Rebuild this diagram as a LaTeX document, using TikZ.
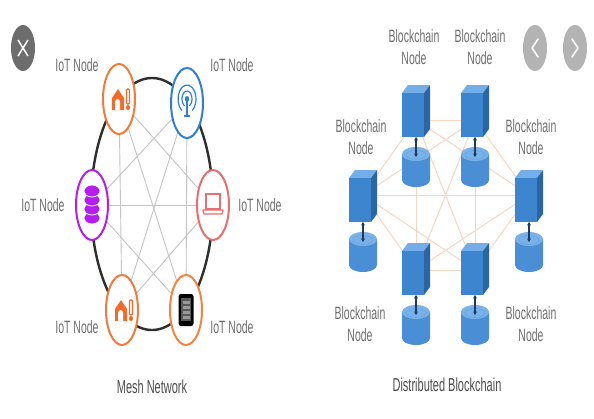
\documentclass[tikz,border=0pt]{standalone}
\usepackage{fontspec}
\setmainfont{Liberation Sans}
\usepackage{graphicx}
\usetikzlibrary{shapes.geometric,arrows.meta,backgrounds}

% text is set tall and narrow
\newcommand{\talltext}[1]{\scalebox{1}[1.7]{#1}}
\newcommand{\twolines}[2]{\talltext{\begin{tabular}{@{}c@{}}#1\\#2\end{tabular}}}

\definecolor{labelgray}{HTML}{6F6F6F}
\definecolor{titlegray}{HTML}{4D4D4D}
\definecolor{meshgray}{HTML}{C4C4C4}
\definecolor{ringblack}{HTML}{2E2E2E}
\definecolor{homeorange}{HTML}{F2692A}
\definecolor{ringorange}{HTML}{F07B3C}
\definecolor{antennablue}{HTML}{2F7FD3}
\definecolor{dbpurple}{HTML}{B51CF0}
\definecolor{laptoppink}{HTML}{EA6E6E}
\definecolor{phoneorange}{HTML}{F2843F}
\definecolor{peach}{HTML}{F7D6C2}
\definecolor{cubefront}{HTML}{3D85CF}
\definecolor{cubetop}{HTML}{73AEE8}
\definecolor{cubeside}{HTML}{2A66A6}
\definecolor{cylbody}{HTML}{4A8ED6}
\definecolor{cyltop}{HTML}{78B2EA}
\definecolor{arrownavy}{HTML}{1E3A5F}
\definecolor{closegray}{HTML}{6D6D6D}
\definecolor{navgray}{HTML}{B3B3B3}

\tikzset{
  iotnode/.style={ellipse, draw, line width=2pt, fill=white,
    minimum width=32pt, minimum height=70pt, inner sep=0pt},
  iotlabel/.style={text=labelgray, font=\fontsize{10.5}{12}\selectfont, inner sep=0pt},
  bclabel/.style={text=labelgray, font=\fontsize{10.5}{13}\selectfont, inner sep=0pt},
  titlelabel/.style={text=titlegray, font=\fontsize{11}{13}\selectfont, inner sep=0pt},
  meshline/.style={draw=meshgray, line width=0.9pt},
  ringline/.style={draw=ringblack, line width=2.4pt},
  peerline/.style={draw=peach, line width=1pt},
  navbtn/.style={ellipse, fill=navgray, minimum width=24pt, minimum height=46pt, inner sep=0pt},
  % server cube with its storage cylinder below
  bnode/.pic={
    \fill[cubetop] (-14,8) -- (-8,0) -- (14,0) -- (8,8) -- cycle;
    \fill[cubeside] (8,8) -- (14,0) -- (14,44) -- (8,52) -- cycle;
    \fill[cubefront] (-14,8) rectangle (8,52);
    \fill[cylbody] (-14,69) -- (-14,95)
      arc[start angle=180, end angle=0, x radius=14, y radius=7] -- (14,69) -- cycle;
    \fill[cyltop] (0,69) ellipse [x radius=14, y radius=7];
    \draw[cylbody!80!white, line width=0.6pt] (0,70) ellipse [x radius=10, y radius=4.5];
    \draw[arrownavy, line width=1.3pt, {Stealth[length=3.5pt,width=4pt]}-{Stealth[length=3.5pt,width=4pt]}]
      (0,52) -- (0,72);
  },
  % smart-home glyph: house with a sensor beside it
  homeicon/.pic={
    \fill[homeorange] (-7,-1) -- (-1,-10) -- (5,-1) -- (5,11) -- (-7,11) -- cycle;
    \fill[white] (-4,11) -- (-4,3)
      arc[start angle=180, end angle=360, x radius=2.5, y radius=3] -- (1,11) -- cycle;
    \draw[homeorange, line width=1.2pt, rounded corners=1pt] (7.5,-10) rectangle (10.5,5);
    \fill[homeorange] (9,8.5) ellipse [x radius=2, y radius=2.6];
  }
}

\begin{document}
\begin{tikzpicture}[x=1pt, y=-1pt]
\useasboundingbox (0,0) rectangle (594,418);

% ---------- header buttons ----------
\node[ellipse, fill=closegray, minimum width=24pt, minimum height=46pt, inner sep=0pt] (close) at (23,48) {};
\draw[white, line width=1.5pt] ([shift={(-5,-8)}]close.center) -- ([shift={(5,8)}]close.center)
  ([shift={(5,-8)}]close.center) -- ([shift={(-5,8)}]close.center);
\node[navbtn] (prev) at (535,48) {};
\draw[white, line width=1.6pt, line cap=round, line join=round]
  ([shift={(3,-9)}]prev.center) -- ([shift={(-3,0)}]prev.center) -- ([shift={(3,9)}]prev.center);
\node[navbtn] (next) at (575,48) {};
\draw[white, line width=1.6pt, line cap=round, line join=round]
  ([shift={(-3,-9)}]next.center) -- ([shift={(3,0)}]next.center) -- ([shift={(-3,9)}]next.center);

% ---------- mesh network ----------
\node[iotnode, draw=ringorange]  (home1)  at (119,99)  {};
\node[iotnode, draw=antennablue] (tower)  at (187,103) {};
\node[iotnode, draw=dbpurple]    (db)     at (92,205)  {};
\node[iotnode, draw=laptoppink]  (laptop) at (213,205) {};
\node[iotnode, draw=ringorange]  (home2)  at (122,310) {};
\node[iotnode, draw=phoneorange] (phone)  at (186,310) {};

\begin{pgfonlayer}{background}
  \fill[white] (0,0) rectangle (594,418);
  \draw[ringline] (152,204) ellipse [x radius=61, y radius=126];
  \draw[meshline] (home1) -- (home2);
  \draw[meshline] (tower) -- (phone);
  \draw[meshline] (db) -- (laptop);
  \draw[meshline] (home1) -- (laptop);
  \draw[meshline] (home1) -- (phone);
  \draw[meshline] (tower) -- (db);
  \draw[meshline] (tower) -- (home2);
  \draw[meshline] (db) -- (phone);
  \draw[meshline] (laptop) -- (home2);
\end{pgfonlayer}

% icons
\pic at (home1.center) {homeicon};
\pic at (home2.center) {homeicon};

\begin{scope}[shift={(tower.center)}]
  \fill[antennablue] (0,-4) ellipse [x radius=2.2, y radius=3];
  \draw[antennablue, line width=1.2pt]
    ([shift={(120:5 and 8)}]0,-4) arc[start angle=120, end angle=420, x radius=5, y radius=8];
  \draw[antennablue, line width=1.2pt]
    ([shift={(125:9 and 14)}]0,-4) arc[start angle=125, end angle=415, x radius=9, y radius=14];
  \draw[antennablue, line width=1.3pt] (0,-4) -- (0,13);
  \draw[antennablue, line width=1.3pt] (-3,13) -- (3,13);
\end{scope}

\begin{scope}[shift={(db.center)}]
  \foreach \yy in {13,4,-5,-14}
    \filldraw[fill=dbpurple, draw=white, line width=0.8pt] (0,\yy) ellipse [x radius=8, y radius=6];
\end{scope}

\begin{scope}[shift={(laptop.center)}]
  \draw[laptoppink, line width=1.3pt] (-7,-11) rectangle (7,4);
  \draw[laptoppink, line width=1.3pt, line join=round] (-10,5) -- (10,5) -- (9,9) -- (-9,9) -- cycle;
\end{scope}

\begin{scope}[shift={(phone.center)}]
  \fill[black, rounded corners=2.5pt] (-7.5,-16) rectangle (7.5,16);
  \fill[black!65] (-5,-12) rectangle (5,11);
  \foreach \yy in {-9,-4,1,6}
    \fill[black!40] (-3.5,\yy) rectangle (3.5,\yy+2.5);
\end{scope}

% labels
\node[iotlabel] (l1) at (77,65)   {\talltext{IoT Node}};
\node[iotlabel] (l2) at (232,65)  {\talltext{IoT Node}};
\node[iotlabel] (l3) at (43,205)  {\talltext{IoT Node}};
\node[iotlabel] (l4) at (260,205) {\talltext{IoT Node}};
\node[iotlabel] (l5) at (77,327)  {\talltext{IoT Node}};
\node[iotlabel] (l6) at (232,327) {\talltext{IoT Node}};
\node[titlelabel] (meshtitle) at (152,387) {\talltext{Mesh Network}};

% ---------- distributed blockchain ----------
\coordinate (b1) at (416,120);
\coordinate (b2) at (475,120);
\coordinate (b3) at (363,195);
\coordinate (b4) at (529,195);
\coordinate (b5) at (416,270);
\coordinate (b6) at (475,270);

\foreach \a/\b in {b1/b2,b1/b3,b1/b4,b1/b5,b1/b6,b2/b3,b2/b4,b2/b5,b2/b6,b3/b4,b3/b5,b3/b6,b4/b5,b4/b6,b5/b6}
  \draw[peerline] (\a) -- (\b);

\pic at (416,85)  {bnode};
\pic at (475,85)  {bnode};
\pic at (363,170) {bnode};
\pic at (529,170) {bnode};
\pic at (416,243) {bnode};
\pic at (475,243) {bnode};

\node[bclabel] (c1) at (414,49)  {\twolines{Blockchain}{Node}};
\node[bclabel] (c2) at (480,49)  {\twolines{Blockchain}{Node}};
\node[bclabel] (c3) at (361,139) {\twolines{Blockchain}{Node}};
\node[bclabel] (c4) at (531,139) {\twolines{Blockchain}{Node}};
\node[bclabel] (c5) at (360,326) {\twolines{Blockchain}{Node}};
\node[bclabel] (c6) at (531,326) {\twolines{Blockchain}{Node}};
\node[titlelabel] (bctitle) at (447,385) {\talltext{Distributed Blockchain}};
\end{tikzpicture}
\end{document}
